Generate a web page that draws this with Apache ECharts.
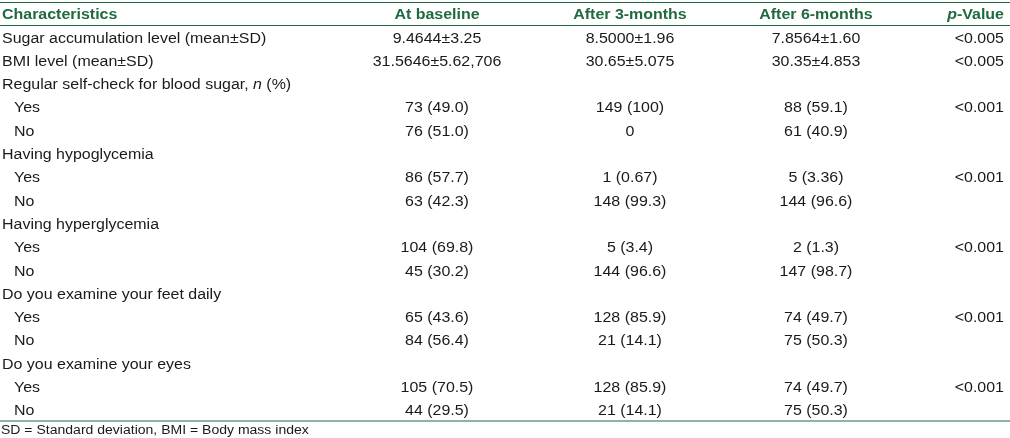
<!DOCTYPE html>
<html><head><meta charset="utf-8">
<script src="https://cdn.jsdelivr.net/npm/echarts@6/dist/echarts.min.js"></script>
<style>html,body{margin:0;padding:0;background:#fff}#c{width:1010px;height:438px}</style>
</head><body><div id="c"></div>
<script>
// ---- data ----
const headers = ["Characteristics", "At baseline", "After 3-months", "After 6-months", "p-Value"];
const characteristics = [
  "Sugar accumulation level (mean±SD)", "BMI level (mean±SD)", "Regular self-check for blood sugar, n (%)",
  "Yes", "No", "Having hypoglycemia", "Yes", "No", "Having hyperglycemia", "Yes", "No",
  "Do you examine your feet daily", "Yes", "No", "Do you examine your eyes", "Yes", "No"
];
const isSubRow = [false,false,false,true,true,false,true,true,false,true,true,false,true,true,false,true,true];
const baseline = ["9.4644±3.25","31.5646±5.62,706","","73 (49.0)","76 (51.0)","","86 (57.7)","63 (42.3)","","104 (69.8)","45 (30.2)","","65 (43.6)","84 (56.4)","","105 (70.5)","44 (29.5)"];
const after3 = ["8.5000±1.96","30.65±5.075","","149 (100)","0","","1 (0.67)","148 (99.3)","","5 (3.4)","144 (96.6)","","128 (85.9)","21 (14.1)","","128 (85.9)","21 (14.1)"];
const after6 = ["7.8564±1.60","30.35±4.853","","88 (59.1)","61 (40.9)","","5 (3.36)","144 (96.6)","","2 (1.3)","147 (98.7)","","74 (49.7)","75 (50.3)","","74 (49.7)","75 (50.3)"];
const pValues = ["<0.005","<0.005","","<0.001","","","<0.001","","","<0.001","","","<0.001","","","<0.001",""];
const footnote = "SD = Standard deviation, BMI = Body mass index";

// ---- layout (not data) ----
const colX = [2, 437, 630, 816, 1004];
const colAlign = ["left","center","center","center","right"];
const indent = 12;
const FONT = "Liberation Sans, Arial, Helvetica, sans-serif";
const GREEN = "#1f6a3e";
const TEXT = "#1a1a1a";
const FS = 14;
const SX = 1.14;
const ROW_H = 23.3;

const rowIdx = characteristics.map((_, i) => i);
const cells = [];
const cols = [characteristics, baseline, after3, after6, pValues];
cols.forEach((col, c) => col.forEach((t, r) => { if (t !== "") cells.push([c, r, t]); }));

const chart = echarts.init(document.getElementById('c'), null, {renderer: 'canvas'});
chart.setOption({
  animation: false,
  backgroundColor: '#fff',
  grid: {left: 0, right: 0, top: 27, height: ROW_H * characteristics.length},
  xAxis: {type: 'value', min: 0, max: 1010, show: false},
  yAxis: {type: 'category', data: rowIdx, inverse: true, show: false},
  graphic: [
    {type: 'line', shape: {x1: 0, y1: 2.5, x2: 1010, y2: 2.5}, style: {stroke: GREEN, lineWidth: 1.2}},
    {type: 'line', shape: {x1: 0, y1: 25.5, x2: 1010, y2: 25.5}, style: {stroke: GREEN, lineWidth: 1.2}},
    {type: 'line', shape: {x1: 0, y1: 421, x2: 1010, y2: 421}, style: {stroke: GREEN, lineWidth: 1.2}},
    ...headers.map((h, i) => (i === 4 ? {
      type: 'text', x: colX[i], y: 15.5, scaleX: SX,
      style: {rich: {i: {fontStyle: 'italic', fontWeight: 'bold', fontSize: FS, fontFamily: FONT, fill: GREEN}, b: {fontWeight: 'bold', fontSize: FS, fontFamily: FONT, fill: GREEN}},
        text: '{i|p}{b|-Value}', align: 'right', verticalAlign: 'middle'}
    } : {
      type: 'text', x: colX[i], y: 15.5, scaleX: SX,
      style: {text: h, font: `bold ${FS}px ${FONT}`, fill: GREEN, align: colAlign[i], verticalAlign: 'middle'}
    })),
    {type: 'text', x: 1, y: 430.5, scaleX: SX, style: {text: footnote, font: `12.3px ${FONT}`, fill: TEXT, align: 'left', verticalAlign: 'middle'}}
  ],
  series: [{
    type: 'custom',
    data: cells,
    renderItem: function (params, api) {
      const c = api.value(0), r = api.value(1);
      const t = cells[params.dataIndex][2];
      const pt = api.coord([colX[c], r]);
      let x = pt[0];
      if (c === 0 && isSubRow[r]) x += indent;
      if (c === 0 && t.indexOf(', n (%)') >= 0) {
        const base = t.replace(', n (%)', ', ');
        return {type: 'text', x: x, y: pt[1], scaleX: SX, style: {
          rich: {a: {fontSize: FS, fontFamily: FONT, fill: TEXT}, i: {fontSize: FS, fontFamily: FONT, fontStyle: 'italic', fill: TEXT}},
          text: '{a|' + base + '}{i|n}{a| (%)}', align: 'left', verticalAlign: 'middle'}};
      }
      return {type: 'text', x: x, y: pt[1], scaleX: SX, style: {text: t, font: `${FS}px ${FONT}`, fill: TEXT, align: colAlign[c], verticalAlign: 'middle'}};
    }
  }]
});
</script></body></html>
